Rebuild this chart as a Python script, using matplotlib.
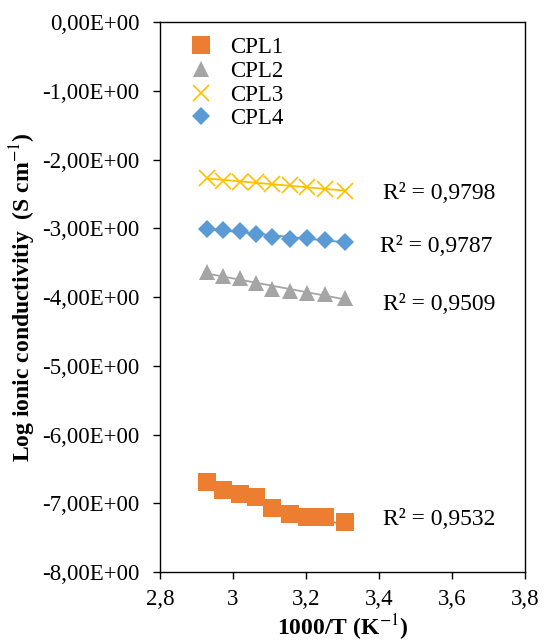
import numpy as np
import matplotlib
matplotlib.use('Agg')
import matplotlib.pyplot as plt
from matplotlib.ticker import FuncFormatter

plt.rcParams['font.family'] = ['Liberation Serif', 'DejaVu Serif']
plt.rcParams['mathtext.fontset'] = 'stix'

# 1000/T values
inv_T = [2.928, 2.972, 3.018, 3.062, 3.107, 3.155, 3.202, 3.253, 3.308]

cpl1 = [-6.69, -6.81, -6.87, -6.91, -7.07, -7.16, -7.20, -7.20, -7.27]
cpl2 = [-3.64, -3.69, -3.73, -3.80, -3.88, -3.91, -3.94, -3.96, -4.01]
cpl3 = [-2.27, -2.31, -2.32, -2.33, -2.36, -2.37, -2.40, -2.43, -2.46]
cpl4 = [-3.01, -3.03, -3.04, -3.08, -3.12, -3.15, -3.14, -3.17, -3.20]

names = ['CPL1', 'CPL2', 'CPL3', 'CPL4']
r2_labels = ['R² = 0,9532', 'R² = 0,9509', 'R² = 0,9798', 'R² = 0,9787']

fig = plt.figure(figsize=(5.47, 6.42), dpi=100)
ax = fig.add_axes([0.2925, 0.109, 0.667, 0.8567])

series = [cpl1, cpl2, cpl3, cpl4]
colors = ['#ED7D31', '#A5A5A5', '#FFC000', '#5B9BD5']
markers = ['s', '^', 'x', 'D']
sizes = [12.5, 12, 12, 9]

x = np.array(inv_T)
for y, c, m, ms, name in zip(series, colors, markers, sizes, names):
    if m == 'x':
        ax.plot(x, y, linestyle='none', marker=m, markersize=ms, color=c,
                markeredgewidth=1.2, label=name, zorder=3)
    else:
        ax.plot(x, y, linestyle='none', marker=m, markersize=ms, color=c,
                markeredgewidth=0, label=name, zorder=3)
    # linear trendline
    k, b = np.polyfit(x, y, 1)
    ax.plot(x, k * x + b, color=c, linewidth=1.3, zorder=4)

ax.set_xlim(2.8, 3.8)
ax.set_ylim(-8, 0)
ax.set_xticks(np.arange(2.8, 3.81, 0.2))
ax.set_yticks(np.arange(-8, 0.1, 1))
ax.xaxis.set_major_formatter(FuncFormatter(lambda v, p: f'{v:g}'.replace('.', ',')))
ax.yaxis.set_major_formatter(FuncFormatter(lambda v, p: f'{v:.2E}'.replace('.', ',').replace('-0,00', '0,00')))
ax.tick_params(labelsize=16.5, direction='out', length=5, width=1, color='black', pad=7)
ax.tick_params(axis='y', pad=10)
for s in ax.spines.values():
    s.set_linewidth(1)
    s.set_color('black')

ax.set_xlabel('1000/T (K$^{-1}$)', fontsize=17, fontweight='bold', labelpad=2)
ax.set_ylabel('Log ionic conductivitiy  (S cm$^{-1}$)', fontsize=17, fontweight='bold', labelpad=3)

leg = ax.legend(loc='upper left', bbox_to_anchor=(0.035, 1.0), frameon=False, fontsize=16.5,
                handletextpad=0.65, labelspacing=0.12, borderaxespad=0.25, handlelength=1.2)

# R² annotations
r2_pos = [(0.765, 0.095), (0.765, 0.487), (0.765, 0.688), (0.757, 0.592)]
for (px, py), t in zip(r2_pos, r2_labels):
    ax.text(px, py, t, transform=ax.transAxes, fontsize=17, ha='center', va='center')

fig.savefig('out.png', dpi=100)
